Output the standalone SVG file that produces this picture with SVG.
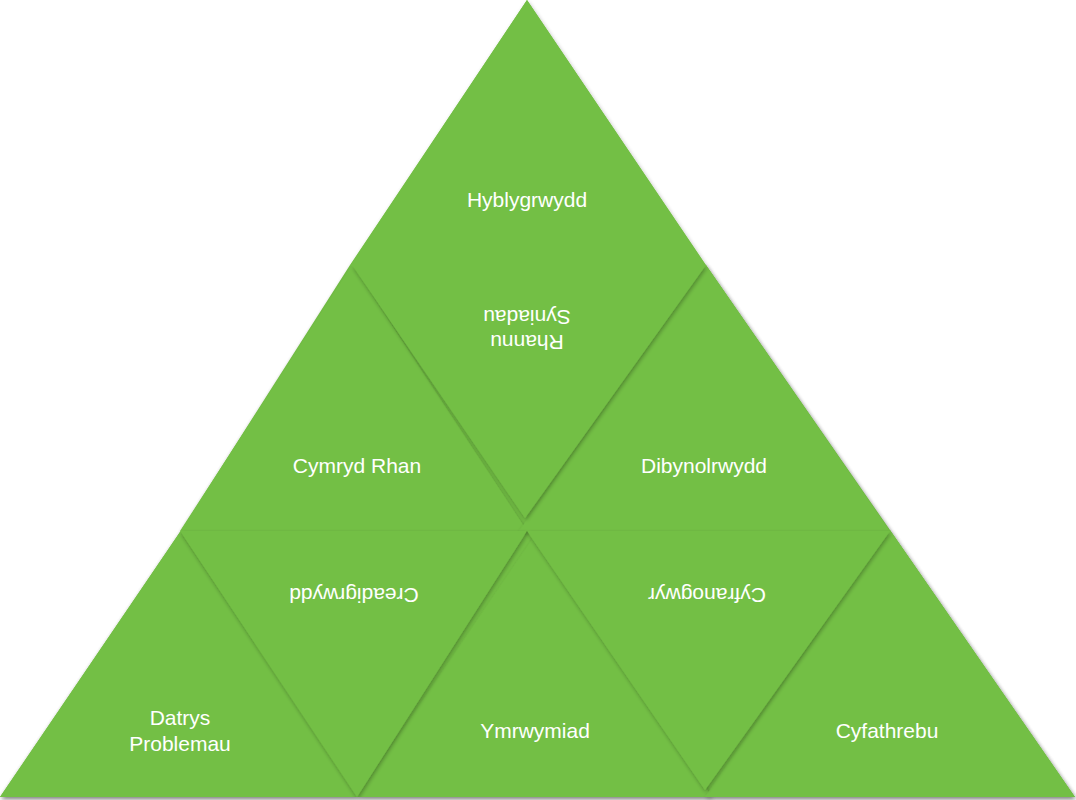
<svg xmlns="http://www.w3.org/2000/svg" width="1076" height="800" viewBox="0 0 1076 800">
  <defs>
    <filter id="soft" x="-10%" y="-10%" width="120%" height="120%">
      <feGaussianBlur in="SourceAlpha" stdDeviation="2"/>
      <feOffset dx="1" dy="2" result="blur"/>
      <feComponentTransfer><feFuncA type="linear" slope="0.3"/></feComponentTransfer>
      <feMerge><feMergeNode/><feMergeNode in="SourceGraphic"/></feMerge>
    </filter>
  </defs>
  <style>
    .tri { fill: #73BF45; filter: url(#soft); }
    .flat { fill: #73BF45; }
    .lbl { font-family: "Liberation Sans", Arial, sans-serif; font-size: 21px; fill: #FFFFFF; text-anchor: middle; }
  </style>
  <rect width="1076" height="800" fill="#FFFFFF"/>

  <!-- solid backing so the seams between tiles never show white -->
  <polygon class="flat" points="527,0 706,265 890,530 1075,797 0,797 180,532 350,265" filter="url(#soft)"/>

  <!-- middle row, upright -->
  <g id="cymryd-rhan">
    <polygon class="tri" points="352,265 180,531 527,531"/>
    <text class="lbl" x="357" y="473">Cymryd Rhan</text>
  </g>
  <g id="dibynolrwydd">
    <polygon class="tri" points="706,265 519,531 890,531"/>
    <text class="lbl" x="704" y="473">Dibynolrwydd</text>
  </g>

  <!-- middle row, inverted -->
  <g id="rhannu-syniadau">
    <polygon class="tri" points="352,265 706,265 525,518"/>
    <g transform="rotate(180 527 330)">
      <text class="lbl" x="527" y="325">Rhannu</text>
      <text class="lbl" x="527" y="350">Syniadau</text>
    </g>
  </g>

  <!-- top tile, laid over the middle row so its base leaves no seam -->
  <g id="hyblygrwydd">
    <polygon class="flat" points="527,0 350,266 706,266"/>
    <text class="lbl" x="527" y="207">Hyblygrwydd</text>
  </g>

  <!-- bottom row, upright -->
  <g id="datrys-problemau">
    <polygon class="tri" points="180,532 0,797 357,797"/>
    <text class="lbl" x="180" y="725">Datrys</text>
    <text class="lbl" x="180" y="751">Problemau</text>
  </g>
  <g id="ymrwymiad">
    <polygon class="tri" points="535,535 357,797 712,797"/>
    <text class="lbl" x="535" y="738">Ymrwymiad</text>
  </g>
  <g id="cyfathrebu">
    <polygon class="tri" points="890,530 705,797 1075,797"/>
    <text class="lbl" x="887" y="738">Cyfathrebu</text>
  </g>

  <!-- bottom row, inverted -->
  <g id="creadigrwydd">
    <polygon class="tri" points="180,531 527,531 357,797"/>
    <text class="lbl" x="354" y="602" transform="rotate(180 354 595)">Creadigrwydd</text>
  </g>
  <g id="cyfranogwyr">
    <polygon class="tri" points="527,531 890,531 705,790"/>
    <text class="lbl" x="707" y="602" transform="rotate(180 707 595)">Cyfranogwyr</text>
  </g>

  <g id="connectors"/>
</svg>
